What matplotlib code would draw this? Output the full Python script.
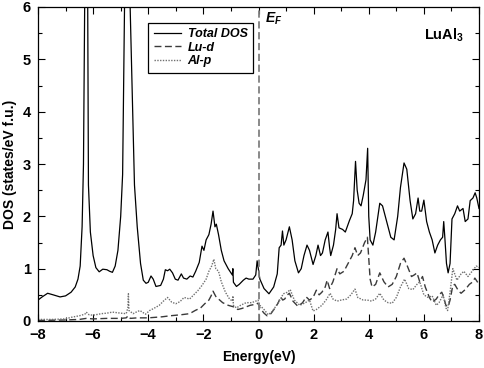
import matplotlib
matplotlib.use("Agg")
import matplotlib.pyplot as plt
from matplotlib.ticker import MultipleLocator

plt.rcParams['font.family'] = ['Liberation Sans', 'DejaVu Sans']
plt.rcParams['mathtext.fontset'] = 'custom'
plt.rcParams['mathtext.rm'] = 'Liberation Sans:bold'
plt.rcParams['mathtext.bf'] = 'Liberation Sans:bold'
plt.rcParams['mathtext.it'] = 'Liberation Sans:italic:bold'

# ---- data ----
total_E = [-8.0, -7.85, -7.65, -7.45, -7.2, -7.0, -6.8, -6.65, -6.55, -6.47, -6.40, -6.35, -6.30, -6.25,
           -6.20, -6.17, -6.10, -6.00, -5.90, -5.78, -5.65, -5.50, -5.40, -5.30, -5.20, -5.10, -5.00,
           -4.93, -4.85, -4.78, -4.68, -4.50, -4.40, -4.28, -4.18, -4.08, -4.00, -3.90, -3.82, -3.72,
           -3.55, -3.45, -3.38, -3.30, -3.22, -3.12, -3.02, -2.92, -2.80, -2.72, -2.60, -2.48, -2.38,
           -2.28, -2.15, -2.05, -1.98, -1.90, -1.80, -1.72, -1.65, -1.58, -1.53, -1.45, -1.35, -1.25,
           -1.10, -0.95, -0.93, -0.91, -0.80, -0.70, -0.55, -0.45, -0.35, -0.20, -0.10, -0.05, 0.05,
           0.20, 0.38, 0.55, 0.68, 0.75, 0.82, 0.87, 0.92, 1.00, 1.12, 1.22, 1.32, 1.45, 1.55, 1.65,
           1.76, 1.85, 1.98, 2.08, 2.16, 2.25, 2.32, 2.42, 2.52, 2.58, 2.62, 2.72, 2.80, 2.85, 2.92,
           3.05, 3.15, 3.30, 3.40, 3.45, 3.52, 3.58, 3.65, 3.72, 3.80, 3.90, 3.96, 4.00, 4.05, 4.15,
           4.25, 4.40, 4.50, 4.65, 4.80, 4.92, 5.05, 5.15, 5.28, 5.38, 5.50, 5.60, 5.70, 5.79, 5.85,
           5.92, 6.00, 6.10, 6.20, 6.30, 6.40, 6.50, 6.60, 6.68, 6.72, 6.76, 6.82, 6.88, 6.95, 7.02,
           7.12, 7.22, 7.30, 7.42, 7.50, 7.60, 7.68, 7.78, 7.86, 7.92, 8.00]
total_dos = [0.40, 0.46, 0.53, 0.50, 0.46, 0.48, 0.55, 0.65, 0.80, 1.05, 1.8, 3.0, 6.5, 9.0,
             6.5, 2.6, 1.7, 1.25, 1.02, 0.94, 0.99, 0.98, 0.95, 0.93, 1.05, 1.35, 2.0,
             2.8, 6.5, 9.0, 6.5, 2.6, 1.8, 1.1, 0.78, 0.72, 0.74, 0.86, 0.80, 0.66,
             0.68, 0.80, 0.98, 0.96, 0.99, 0.92, 0.80, 0.78, 0.90, 0.82, 0.80, 0.86, 0.84,
             0.95, 1.12, 1.43, 1.35, 1.55, 1.65, 1.85, 2.10, 1.80, 1.85, 1.65, 1.35, 1.15,
             1.0, 0.88, 1.00, 0.74, 0.66, 0.70, 0.78, 0.82, 0.80, 0.80, 0.88, 1.15, 0.80,
             0.62, 0.52, 0.65, 0.90, 1.40, 1.45, 1.72, 1.45, 1.55, 1.80, 1.55, 1.15, 0.92, 1.00, 1.25,
             1.45, 1.35, 1.08, 1.25, 1.45, 1.25, 1.30, 1.55, 1.70, 1.40, 1.25, 1.45, 1.75, 2.05, 1.78,
             1.75, 1.70, 1.92, 2.05, 2.30, 3.05, 2.50, 2.25, 2.20, 2.40, 2.70, 3.30, 2.0, 1.55, 1.45,
             1.70, 2.25, 2.20, 1.90, 1.60, 1.55, 2.00, 2.55, 3.02, 2.90, 2.30, 1.95, 2.05, 2.35, 2.10,
             2.10, 2.31, 1.90, 1.70, 1.55, 1.30, 1.45, 1.55, 1.60, 1.90, 1.60, 1.10, 0.92, 1.10, 1.95,
             2.05, 2.20, 2.10, 2.15, 1.90, 1.95, 2.30, 2.35, 2.45, 2.35, 2.15]

lud_E = [-8.0, -7.0, -6.5, -6.25, -6.0, -5.5, -5.0, -4.8, -4.73, -4.65, -4.4, -4.0, -3.5, -3.2, -3.0,
         -2.8, -2.5, -2.3, -2.1, -1.95, -1.8, -1.72, -1.65, -1.55, -1.45, -1.3, -1.1, -0.9, -0.75,
         -0.6, -0.45, -0.3, -0.1, -0.02, 0.05, 0.2, 0.31, 0.45, 0.6, 0.72, 0.8, 0.88, 0.95, 1.05,
         1.12, 1.25, 1.43, 1.6, 1.73, 1.85, 1.98, 2.1, 2.2, 2.3, 2.42, 2.49, 2.58, 2.7, 2.85, 2.95,
         3.1, 3.25, 3.4, 3.5, 3.6, 3.7, 3.85, 3.95, 4.0, 4.05, 4.12, 4.25, 4.4, 4.55, 4.7, 4.85,
         5.0, 5.15, 5.28, 5.4, 5.55, 5.65, 5.75, 5.85, 5.95, 6.05, 6.2, 6.3, 6.45, 6.55, 6.65, 6.72,
         6.8, 6.88, 6.95, 7.05, 7.12, 7.25, 7.35, 7.5, 7.65, 7.78, 7.85, 8.0]
lud_dos = [0.01, 0.02, 0.03, 0.05, 0.04, 0.05, 0.05, 0.06, 0.10, 0.05, 0.06, 0.06, 0.08, 0.10, 0.11,
           0.12, 0.14, 0.20, 0.25, 0.33, 0.40, 0.48, 0.57, 0.47, 0.42, 0.35, 0.30, 0.27, 0.22,
           0.24, 0.27, 0.30, 0.32, 0.34, 0.25, 0.15, 0.10, 0.14, 0.25, 0.35, 0.46, 0.40, 0.42, 0.50,
           0.53, 0.38, 0.28, 0.35, 0.46, 0.40, 0.45, 0.59, 0.50, 0.55, 0.65, 0.78, 0.62, 0.75, 1.00, 0.90,
           0.95, 1.10, 1.25, 1.40, 1.25, 1.30, 1.50, 1.60, 1.2, 0.80, 0.65, 0.70, 0.92, 0.75, 0.65, 0.70,
           0.85, 1.10, 1.20, 1.05, 0.85, 0.88, 0.92, 0.75, 0.85, 0.65, 0.45, 0.36, 0.42, 0.50, 0.55, 0.45,
           0.30, 0.27, 0.40, 0.68, 0.70, 0.58, 0.53, 0.60, 0.70, 0.75, 0.82, 0.70]

alp_E = [-8.0, -7.5, -7.0, -6.8, -6.5, -6.3, -6.25, -6.15, -6.0, -5.7, -5.5, -5.3, -5.0, -4.8, -4.74,
         -4.72, -4.70, -4.55, -4.4, -4.3, -4.1, -3.95, -3.8, -3.6, -3.45, -3.3, -3.15, -3.0, -2.85,
         -2.7, -2.5, -2.35, -2.2, -2.05, -1.9, -1.8, -1.7, -1.62, -1.55, -1.45, -1.35, -1.2, -1.05,
         -0.94, -0.93, -0.91, -0.8, -0.65, -0.45, -0.25, -0.1, -0.02, 0.05, 0.2, 0.35, 0.5, 0.65, 0.8,
         0.9, 1.05, 1.15, 1.3, 1.5, 1.7, 1.85, 1.98, 2.1, 2.3, 2.45, 2.6, 2.7, 2.85, 3.0, 3.2, 3.35,
         3.5, 3.6, 3.8, 3.95, 4.1, 4.25, 4.4, 4.55, 4.7, 4.85, 5.0, 5.15, 5.3, 5.45, 5.6, 5.75, 5.85,
         6.0, 6.15, 6.3, 6.45, 6.55, 6.7, 6.8, 6.86, 6.95, 7.05, 7.2, 7.35, 7.45, 7.6, 7.75, 7.9, 8.0]
alp_dos = [0.03, 0.03, 0.04, 0.07, 0.10, 0.13, 0.17, 0.12, 0.11, 0.14, 0.15, 0.17, 0.15, 0.14, 0.25,
           0.52, 0.20, 0.14, 0.18, 0.20, 0.13, 0.20, 0.24, 0.30, 0.38, 0.45, 0.36, 0.33, 0.37,
           0.45, 0.42, 0.50, 0.58, 0.68, 0.80, 0.95, 1.05, 1.18, 1.0, 0.95, 0.75, 0.55, 0.42,
           0.38, 0.48, 0.30, 0.25, 0.30, 0.35, 0.35, 0.38, 0.40, 0.30, 0.22, 0.12, 0.18, 0.30, 0.42,
           0.52, 0.55, 0.60, 0.40, 0.30, 0.35, 0.40, 0.19, 0.22, 0.30, 0.40, 0.53, 0.42, 0.38, 0.40, 0.42, 0.50,
           0.61, 0.45, 0.40, 0.40, 0.38, 0.42, 0.53, 0.40, 0.35, 0.34, 0.45, 0.65, 0.80, 0.62, 0.60, 0.70, 0.75,
           0.50, 0.45, 0.48, 0.30, 0.35, 0.50, 0.25, 0.20, 0.55, 1.0, 0.78, 0.90, 0.95, 0.85, 0.95, 1.05, 1.02]

series_labels = ['Total DOS', 'Lu-d', 'Al-p']
x_ticks = [-8, -6, -4, -2, 0, 2, 4, 6, 8]
y_ticks = [0, 1, 2, 3, 4, 5, 6]

# ---- figure ----
fig = plt.figure(figsize=(4.84, 3.68), dpi=100)
ax = fig.add_axes([38/484, 1-321/368, 441/484, 314/368])

ax.plot(total_E, total_dos, color='black', lw=0.9, label=series_labels[0])
ax.plot(lud_E, lud_dos, color='#3a3a3a', lw=1.0, ls=(0, (5, 2.5)), label=series_labels[1])
ax.plot(alp_E, alp_dos, color='#707070', lw=1.0, ls=(0, (1, 1)), label=series_labels[2])
ax.axvline(0, color='#808080', lw=1.3, ls=(0, (4, 2)))

ax.set_xlim(-8, 8)
ax.set_ylim(0, 6)
ax.set_xticks(x_ticks)
ax.set_yticks(y_ticks)
ax.xaxis.set_minor_locator(MultipleLocator(1))
ax.yaxis.set_minor_locator(MultipleLocator(0.5))
ax.tick_params(which='both', direction='in', top=True, right=True, width=0.8)
ax.tick_params(which='major', length=5, labelsize=10.5, pad=5)
ax.tick_params(which='minor', length=3)
for lab in ax.get_xticklabels() + ax.get_yticklabels():
    lab.set_fontweight('bold')
for sp in ax.spines.values():
    sp.set_linewidth(0.9)

ax.set_xlabel('Energy(eV)', fontsize=10, fontweight='bold', labelpad=6)
ax.set_ylabel('DOS (states/eV f.u.)', fontsize=10, fontweight='bold', labelpad=4)

leg = ax.legend(loc='upper left', bbox_to_anchor=(0.236, 0.97), fancybox=False,
                edgecolor='black', framealpha=1, handlelength=2.2, borderpad=0.45,
                labelspacing=0.12, handletextpad=0.5,
                prop={'family': 'Liberation Sans', 'weight': 'bold', 'style': 'italic', 'size': 9})
leg.get_frame().set_linewidth(0.9)

ax.text(0.22, 5.93, r'$E_F$', fontsize=10, ha='left', va='top')
ax.text(7.45, 5.62, r'LuAl$_\mathbf{3}$', fontsize=10.5, fontweight='bold', ha='right', va='top')

fig.savefig('out.png', dpi=100)
